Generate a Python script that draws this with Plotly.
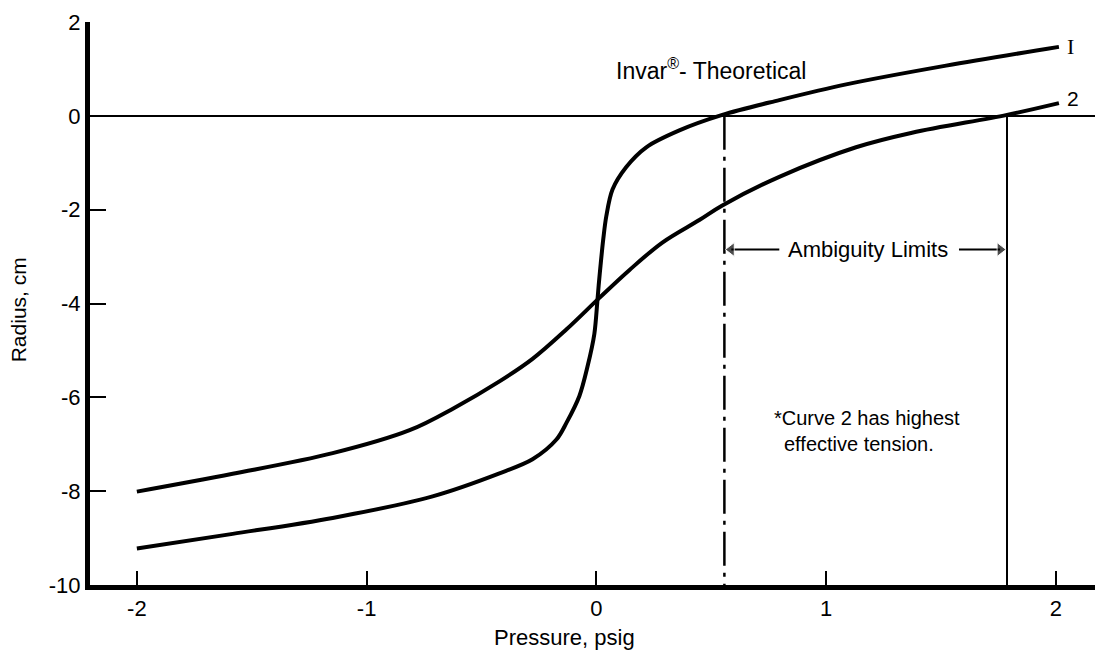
import plotly.graph_objects as go

# Curve 1 (steep S-curve)
c1_x = [-2.0, -1.583, -1.148, -0.713, -0.422, -0.278, -0.174, -0.130, -0.074,
        -0.039, -0.009, 0.004, 0.010, 0.018, 0.030, 0.043, 0.070, 0.130, 0.217, 0.361,
        0.548, 0.796, 1.087, 1.522, 2.013]
c1_y = [-9.22, -8.91, -8.57, -8.11, -7.62, -7.32, -6.90, -6.54, -5.97,
        -5.35, -4.65, -3.96, -3.61, -3.19, -2.62, -2.14, -1.57, -1.09, -0.67, -0.31,
        0.02, 0.335, 0.67, 1.07, 1.47]

# Curve 2 (gentle curve, highest effective tension)
c2_x = [-2.0, -1.583, -1.148, -0.813, -0.617, -0.422, -0.278, -0.130, 0.013,
        0.143, 0.287, 0.448, 0.548, 0.796, 1.130, 1.374, 1.787, 2.013]
c2_y = [-8.01, -7.63, -7.19, -6.70, -6.22, -5.66, -5.18, -4.55, -3.88,
        -3.29, -2.70, -2.22, -1.91, -1.30, -0.67, -0.36, 0.02, 0.27]

# Ambiguity limits (pressure, psig)
amb_lo = 0.557
amb_hi = 1.787
amb_y = -2.85

x_ticks = [-2, -1, 0, 1, 2]
y_ticks = [-10, -8, -6, -4, -2, 0, 2]

FONT = "Liberation Sans, Arial, sans-serif"
BLK = "black"

fig = go.Figure()
fig.add_trace(go.Scatter(x=c1_x, y=c1_y, mode="lines",
                         line=dict(color=BLK, width=4, shape="spline", smoothing=0.9),
                         hoverinfo="skip", showlegend=False))
fig.add_trace(go.Scatter(x=c2_x, y=c2_y, mode="lines",
                         line=dict(color=BLK, width=4, shape="spline", smoothing=1.0),
                         hoverinfo="skip", showlegend=False))
# vertical limit lines
fig.add_trace(go.Scatter(x=[amb_lo, amb_lo], y=[0, -10], mode="lines",
                         line=dict(color=BLK, width=2.5, dash="34px,7px,4px,7px"),
                         hoverinfo="skip", showlegend=False))
fig.add_trace(go.Scatter(x=[amb_hi, amb_hi], y=[0, -10], mode="lines",
                         line=dict(color=BLK, width=2),
                         hoverinfo="skip", showlegend=False))
# arrows
fig.add_trace(go.Scatter(x=[0.796, amb_lo + 0.03], y=[amb_y, amb_y], mode="lines+markers",
                         line=dict(color=BLK, width=2),
                         marker=dict(symbol=["circle", "triangle-left"], size=[0, 12], color=BLK),
                         hoverinfo="skip", showlegend=False))
fig.add_trace(go.Scatter(x=[1.578, amb_hi - 0.03], y=[amb_y, amb_y], mode="lines+markers",
                         line=dict(color=BLK, width=2),
                         marker=dict(symbol=["circle", "triangle-right"], size=[0, 12], color=BLK),
                         hoverinfo="skip", showlegend=False))

ann = []
ann.append(dict(x=0.078, y=1.0, xref="x", yref="y", xanchor="left", yanchor="middle",
                text="Invar<sup>®</sup>- Theoretical", showarrow=False,
                font=dict(family=FONT, size=23, color=BLK)))
ann.append(dict(x=2.04, y=1.47, xref="x", yref="y", xanchor="left", yanchor="middle",
                text="I", showarrow=False,
                font=dict(family="Liberation Serif, serif", size=22, color=BLK)))
ann.append(dict(x=2.04, y=0.38, xref="x", yref="y", xanchor="left", yanchor="middle",
                text="2", showarrow=False,
                font=dict(family=FONT, size=21, color=BLK)))
ann.append(dict(x=1.183, y=amb_y, xref="x", yref="y", xanchor="center", yanchor="middle",
                text="Ambiguity Limits", showarrow=False,
                font=dict(family=FONT, size=22, color=BLK)))
ann.append(dict(x=0.765, y=-6.44, xref="x", yref="y", xanchor="left", yanchor="middle",
                text="*Curve 2 has highest", showarrow=False,
                font=dict(family=FONT, size=20, color=BLK)))
ann.append(dict(x=0.809, y=-7.0, xref="x", yref="y", xanchor="left", yanchor="middle",
                text="effective tension.", showarrow=False,
                font=dict(family=FONT, size=20, color=BLK)))
ann.append(dict(x=-0.0716, y=0.488, xref="paper", yref="paper", xanchor="center",
                yanchor="middle", text="Radius, cm", textangle=-90, showarrow=False,
                font=dict(family=FONT, size=21, color=BLK)))
ann.append(dict(x=0.4726, y=-0.0941, xref="paper", yref="paper", xanchor="center",
                yanchor="middle", text="Pressure, psig", showarrow=False,
                font=dict(family=FONT, size=22, color=BLK)))

fig.update_layout(
    width=1104, height=658,
    margin=dict(l=82, r=17, t=14, b=81),
    paper_bgcolor="white", plot_bgcolor="white",
    annotations=ann,
    showlegend=False,
)
fig.update_xaxes(range=[-2.204, 2.17], tickvals=x_ticks, ticktext=[str(v) for v in x_ticks],
                 showline=True, linecolor=BLK, linewidth=5, ticks="inside", ticklen=14,
                 tickwidth=2, tickcolor=BLK, showgrid=False, zeroline=False,
                 automargin=False, ticklabeloverflow="allow",
                 tickfont=dict(family=FONT, size=22, color=BLK))
fig.update_yaxes(range=[-10, 2], tickvals=y_ticks, ticktext=[str(v) for v in y_ticks],
                 showline=True, linecolor=BLK, linewidth=5, ticks="inside", ticklen=16,
                 tickwidth=2, tickcolor=BLK, showgrid=False, zeroline=True,
                 zerolinecolor=BLK, zerolinewidth=2, automargin=False,
                 ticklabeloverflow="allow",
                 tickfont=dict(family=FONT, size=22, color=BLK))

fig.write_html("out.html")
